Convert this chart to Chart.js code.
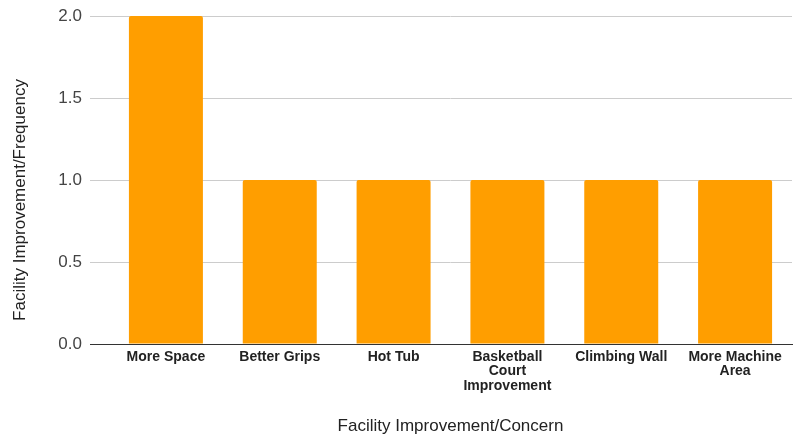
<!DOCTYPE html>
<html>
<head>
<meta charset="utf-8">
<script src="https://cdn.jsdelivr.net/npm/chart.js@4/dist/chart.umd.min.js"></script>
<style>
  html, body { margin: 0; padding: 0; background: #fff; }
</style>
</head>
<body>
<canvas id="c" width="801" height="441"></canvas>
<script>
// categories and values
const categories = [
  "More Space",
  "Better Grips",
  "Hot Tub",
  ["Basketball", "Court", "Improvement"],
  "Climbing Wall",
  ["More Machine", "Area"],
];
const frequency = [2, 1, 1, 1, 1, 1];
const yTicks = [0, 0.5, 1, 1.5, 2];
const yTitle = "Facility Improvement/Frequency";
const xTitle = "Facility Improvement/Concern";

const FONT = "Arial, 'Liberation Sans', sans-serif";

// y title sits a bit below the plot centre in the original, so draw it by hand
const yTitlePlugin = {
  id: "yTitle",
  afterDraw(chart) {
    const ctx = chart.ctx;
    ctx.save();
    ctx.translate(20, 200);
    ctx.rotate(-Math.PI / 2);
    ctx.font = "17px " + FONT;
    ctx.fillStyle = "#222";
    ctx.textAlign = "center";
    ctx.textBaseline = "middle";
    ctx.fillText(yTitle, 0, 0);
    ctx.restore();
  },
};

new Chart(document.getElementById("c"), {
  type: "bar",
  data: {
    labels: categories,
    datasets: [
      {
        data: frequency,
        backgroundColor: "#ff9e00",
        borderRadius: 2,
        borderSkipped: "bottom",
        barPercentage: 0.65,
        categoryPercentage: 1,
      },
    ],
  },
  options: {
    responsive: false,
    animation: false,
    layout: { padding: { top: 16, right: 9, left: 0, bottom: 0 } },
    plugins: { legend: { display: false }, tooltip: { enabled: false } },
    scales: {
      x: {
        grid: { display: false, drawTicks: false },
        border: { display: true, color: "#333", width: 1 },
        ticks: {
          autoSkip: false,
          maxRotation: 0,
          padding: 6,
          color: "#222",
          font: { family: FONT, size: 14, weight: "bold", lineHeight: 1.03 },
        },
        title: {
          display: true,
          text: xTitle,
          color: "#222",
          font: { family: FONT, size: 17 },
          padding: { top: 4, bottom: 4 },
        },
        afterFit: (s) => {
          s.height = 97;
          s.paddingLeft = 0;
          s.paddingRight = 0;
        },
      },
      y: {
        min: 0,
        max: 2,
        afterBuildTicks: (s) => { s.ticks = yTicks.map((v) => ({ value: v })); },
        grid: {
          color: (ctx) => (ctx.tick && ctx.tick.value === 0 ? "#333" : "#ccc"),
          tickLength: 19,
        },
        border: { display: false },
        ticks: {
          padding: 8,
          color: "#444",
          font: { family: FONT, size: 17 },
          callback: (v) => Number(v).toFixed(1),
        },
        title: { display: false },
        afterFit: (s) => {
          s.width = 109;
          s.paddingTop = 0;
          s.paddingBottom = 0;
        },
      },
    },
  },
  plugins: [yTitlePlugin],
});
</script>
</body>
</html>
